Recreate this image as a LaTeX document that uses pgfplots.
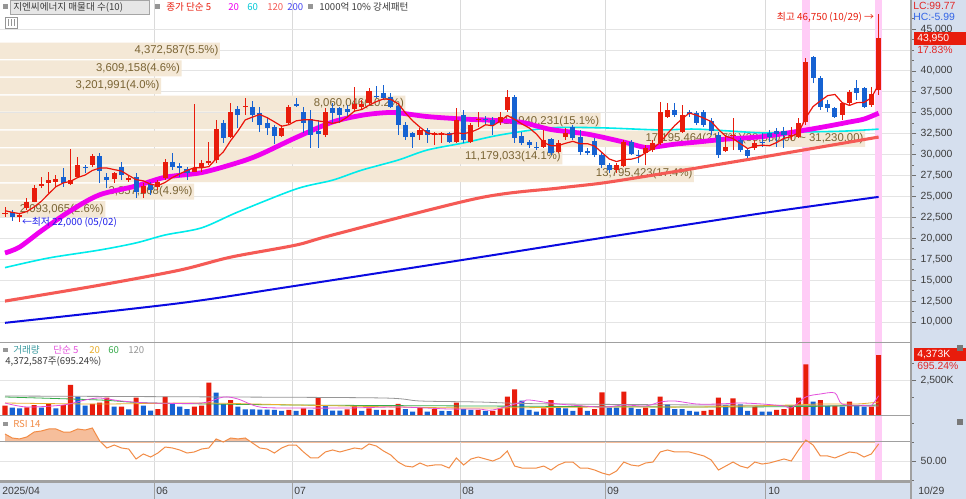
\documentclass[border=0pt]{standalone}
\usepackage{fontspec}
\setmainfont{Liberation Sans}
\newfontfamily\kr{Noto Sans CJK KR}
\usepackage{pgfplots}
\usepackage{pgfplotstable}
\pgfplotsset{compat=1.18}

\definecolor{upred}{RGB}{232,28,12}
\definecolor{dnblue}{RGB}{22,98,210}
\definecolor{ma5c}{RGB}{235,20,10}
\definecolor{ma20c}{RGB}{240,0,240}
\definecolor{ma60c}{RGB}{0,235,235}
\definecolor{ma120c}{RGB}{245,90,85}
\definecolor{ma200c}{RGB}{10,10,225}
\definecolor{beige}{RGB}{244,232,214}
\definecolor{olive}{RGB}{122,100,52}
\definecolor{panelbg}{RGB}{213,223,238}
\definecolor{hgrid}{RGB}{228,228,228}
\definecolor{vgrid}{RGB}{218,218,218}
\definecolor{sepc}{RGB}{160,160,160}
\definecolor{txt}{RGB}{60,60,60}
\definecolor{tickc}{RGB}{110,110,110}
\definecolor{pinkhl}{RGB}{255,204,246}
\definecolor{rsic}{RGB}{242,140,70}
\definecolor{rsifill}{RGB}{246,190,155}
\definecolor{vma5}{RGB}{228,80,220}
\definecolor{vma20}{RGB}{234,175,45}
\definecolor{vma60}{RGB}{55,170,75}
\definecolor{vma120}{RGB}{150,150,150}
\definecolor{tealc}{RGB}{60,155,160}
\definecolor{lowblue}{RGB}{30,30,235}
\definecolor{boxbg}{RGB}{230,230,230}
\definecolor{boxdr}{RGB}{165,165,165}
\definecolor{sqc}{RGB}{150,150,150}
\definecolor{lcred}{RGB}{225,40,40}
\definecolor{hcblue}{RGB}{50,100,230}
\definecolor{cyantxt}{RGB}{0,200,215}
\definecolor{bluetxt}{RGB}{70,70,240}

\newcommand\fs[1]{\fontsize{#1}{#1}\selectfont}

\pgfplotstableread{
i O H L C
0 22950 23750 22550 23050
1 23150 23400 22100 22550
2 22550 23000 22000 22800
3 23600 24800 23400 24350
4 24350 26350 24300 26000
5 26300 27350 26000 26450
6 26600 27900 25400 26950
7 26750 27550 26150 27100
8 27350 28400 26150 26600
9 26500 30650 26350 26950
10 27350 29700 27200 28750
11 28500 28750 27800 28400
12 28750 30100 28500 29850
13 29850 30200 26600 28050
14 27350 27800 26000 26950
15 27100 27900 26600 27800
16 28500 29100 26950 27550
17 26950 27550 26750 27200
18 27350 27800 24800 25550
19 25400 26600 24800 26250
20 26500 26750 25200 25750
21 26150 26950 25750 26750
22 27200 29500 26950 29100
23 29100 30200 28150 28500
24 28650 29000 27350 28400
25 28300 28500 26950 27800
26 27900 36050 27900 28400
27 28400 29350 27900 29000
28 29000 31500 28750 29250
29 29350 34150 29000 33050
30 33800 34150 31400 32000
31 32100 36150 32000 35100
32 35450 35800 33200 34750
33 35750 36750 34750 35850
34 35700 36400 33900 34750
35 35000 35700 32700 33550
36 33800 34500 32350 33200
37 33300 33550 31250 32250
38 32250 33550 32100 33200
39 33800 35950 33550 35700
40 36000 36750 35700 35850
41 35100 35700 32600 33800
42 34250 35350 30800 32350
43 32800 34150 30800 32450
44 32350 35550 32100 35100
45 35550 36150 33800 35000
46 35550 35700 33800 34750
47 35450 35950 34500 35100
48 35450 38100 35100 36050
49 35700 36550 35350 36050
50 36150 37950 35950 37600
51 36950 38200 36750 36850
52 37350 38300 36550 36750
53 36900 37350 35550 35700
54 35800 36150 32350 33550
55 33550 33900 31750 32100
56 32600 32700 30800 32100
57 32350 33200 31750 32950
58 32950 33200 31400 32350
59 32400 32700 31150 32550
60 32400 32700 31400 32550
61 32600 32700 31400 31500
62 31500 35550 31400 34150
63 34750 35350 31400 31750
64 31500 33800 31400 33550
65 34200 35100 33300 34300
66 34200 34600 33550 34100
67 34150 34500 32350 33550
68 33900 35100 33550 34500
69 35350 37700 35100 36900
70 36900 37150 31400 32000
71 32250 32700 31150 31400
72 31500 31750 30800 31150
73 30950 31500 30550 30850
74 30900 32950 30800 31750
75 31850 32000 29950 30200
76 30300 31750 30200 31400
77 32100 33200 31750 32600
78 33300 33550 31750 32000
79 32100 32950 29950 30300
80 30400 30800 29950 30250
81 31650 32000 29700 29950
82 29950 30300 28400 28750
83 28750 29000 27800 28150
84 28150 29000 27800 28750
85 28650 31750 28500 31500
86 31500 31750 29950 30100
87 30000 30550 29000 29900
88 30200 31150 28750 30800
89 30550 31750 30300 31400
90 31400 36300 31150 35100
91 34500 36150 34400 35350
92 35350 36150 34500 34750
93 32700 35950 32600 34750
94 35050 35350 34500 34900
95 35000 35200 33550 33800
96 35100 35350 33300 33550
97 34000 34400 32350 32800
98 32350 32700 29600 29950
99 30450 32350 30300 30900
100 32300 34400 30550 32400
101 31750 32000 30300 30550
102 30550 30800 29600 29850
103 30800 31750 30550 31400
104 31550 32600 30900 31450
105 32600 32950 31500 32100
106 32800 33200 30900 32450
107 32800 33300 30800 32350
108 32300 33300 31750 32400
109 32100 34400 32000 33800
110 33900 41550 33550 41050
111 41650 41800 38550 39150
112 39150 39400 35350 35700
113 36050 36550 35100 35550
114 35550 35700 34400 34500
115 34750 36300 34150 36150
116 36150 37700 35800 37500
117 37950 38900 36550 37350
118 37950 38100 35550 35700
119 35950 38100 35700 37300
120 37700 46750 37150 43950
}\ohlc

\pgfplotstableread{
i m
0 23300
1 23100
2 22950
3 23200
4 23750
5 24430
6 25310
7 26170
8 26620
9 26810
10 27270
11 27560
12 28110
13 28400
14 28400
15 28210
16 28040
17 27510
18 27010
19 26870
20 26460
21 26300
22 26680
23 27270
24 27700
25 28110
26 28440
27 28420
28 28570
29 29500
30 30340
31 31680
32 32830
33 34150
34 34490
35 34800
36 34420
37 33920
38 33390
39 33580
40 34040
41 34160
42 34180
43 34030
44 33910
45 33740
46 33930
47 34480
48 35200
49 35390
50 35910
51 36330
52 36660
53 36590
54 36090
55 34990
56 34040
57 33280
58 32610
59 32410
60 32500
61 32380
62 32620
63 32500
64 32700
65 33050
66 33570
67 33450
68 34000
69 34670
70 34210
71 33670
72 33190
73 32460
74 31430
75 31070
76 31070
77 31360
78 31590
79 31300
80 31310
81 31020
82 30250
83 29480
84 29170
85 29420
86 29450
87 29680
88 30210
89 30740
90 31460
91 32510
92 33480
93 34270
94 34970
95 34710
96 34350
97 33960
98 33000
99 32200
100 31920
101 31320
102 30730
103 31020
104 31130
105 31070
106 31450
107 31950
108 32150
109 32620
110 34410
111 35750
112 36420
113 37050
114 37190
115 36210
116 35880
117 36210
118 36240
119 36800
120 38360
}\mafive

\pgfplotstableread{
i v u
0 680 1
1 535 0
2 486 0
3 559 1
4 729 1
5 535 0
6 850 1
7 486 0
8 729 1
9 2187 1
10 1336 0
11 680 0
12 802 1
13 899 1
14 1264 1
15 608 0
16 615 1
17 413 0
18 1264 1
19 680 0
20 316 0
21 437 1
22 1336 1
23 850 0
24 608 0
25 437 0
26 608 1
27 680 1
28 2357 1
29 1628 0
30 802 0
31 1093 1
32 608 0
33 413 0
34 410 0
35 400 0
36 395 0
37 365 0
38 292 0
39 365 1
40 292 0
41 486 1
42 365 0
43 1264 1
44 729 0
45 316 0
46 310 0
47 413 1
48 680 1
49 292 0
50 486 1
51 365 0
52 370 1
53 380 1
54 802 1
55 437 0
56 243 0
57 535 1
58 243 0
59 437 1
60 292 0
61 285 0
62 899 1
63 437 0
64 365 0
65 370 1
66 292 0
67 300 1
68 486 1
69 1336 1
70 1871 1
71 1045 0
72 365 0
73 243 0
74 486 1
75 1093 1
76 535 0
77 486 0
78 292 0
79 680 1
80 292 0
81 437 1
82 1652 1
83 535 0
84 530 0
85 1701 1
86 535 0
87 437 0
88 535 1
89 437 0
90 1336 1
91 778 0
92 437 0
93 430 0
94 292 0
95 243 0
96 292 1
97 365 1
98 1264 1
99 729 0
100 1215 1
101 778 0
102 292 0
103 608 1
104 243 0
105 240 0
106 365 1
107 437 1
108 656 1
109 1264 1
110 3694 1
111 972 0
112 1093 1
113 656 0
114 660 1
115 608 0
116 972 1
117 656 0
118 608 0
119 615 1
120 4373 1
}\vol

\pgfplotstableread{
i r
0 78.4
1 74.2
2 73.2
3 75.3
4 80.5
5 81.6
6 83.7
7 83.7
8 80.5
9 80.5
10 83.7
11 82.6
12 84.7
13 71.1
14 63.7
15 66.8
16 63.7
17 62.6
18 52.1
19 57.4
20 54.2
21 58.4
22 64.7
23 63.7
24 61.6
25 58.4
26 59.5
27 62.6
28 63.7
29 73.2
30 70.0
31 74.2
32 73.2
33 74.2
34 68.9
35 63.7
36 62.6
37 58.4
38 63.7
39 66.8
40 66.8
41 59.5
42 53.2
43 53.2
44 59.5
45 61.6
46 59.5
47 61.6
48 63.7
49 62.6
50 67.9
51 65.8
52 60.5
53 56.3
54 48.9
55 44.7
56 43.7
57 47.9
58 44.7
59 45.8
60 45.8
61 42.6
62 53.2
63 45.8
64 52.1
65 54.2
66 52.1
67 50.0
68 53.2
69 60.5
70 44.7
71 42.6
72 42.6
73 42.6
74 44.7
75 40.5
76 45.8
77 48.9
78 48.9
79 42.6
80 42.6
81 40.5
82 37.4
83 35.3
84 39.5
85 48.9
86 45.8
87 44.7
88 47.9
89 48.9
90 59.5
91 61.6
92 59.5
93 59.5
94 59.5
95 57.4
96 55.3
97 51.1
98 40.5
99 44.7
100 48.9
101 44.7
102 42.6
103 48.9
104 46.8
105 47.9
106 50.0
107 52.1
108 50.0
109 61.6
110 72.1
111 66.8
112 55.3
113 55.3
114 53.2
115 56.3
116 59.5
117 58.4
118 54.2
119 57.4
120 67.9
}\rsi

\pgfplotstableread{
v p
2093065 23480
3857268 25583
13795423 27686
11179033 29790
17195464 31893
11940231 33996
8060046 36099
3201991 38202
3609158 40305
4372587 42408
}\profile

\pgfplotsset{
  panel/.style={scale only axis, anchor=north west, width=683.25pt,
    xmin=-0.687, xmax=124.45, axis line style={draw=none},
    tick label style={font=\fs{7.8}, text=txt},
    xtick={20.5,39.5,62.5,82.5,104.5}, xticklabels={}, xtick style={draw=none},
    xmajorgrids, x grid style={draw=vgrid, line width=0.75pt},
    ytick pos=right, yticklabel pos=right, tick align=outside,
    major tick length=3.75pt, minor tick length=2.2pt,
    ytick style={draw=tickc, line width=0.6pt},
    scaled y ticks=false, clip=true},
  over/.style={scale only axis, anchor=north west, width=683.25pt, hide axis},
  lowcandle/.style={draw=none, mark=none, forget plot},
}

\begin{document}
\begin{tikzpicture}
\useasboundingbox (0,0) rectangle (724.5pt,-374.25pt);
\begin{scope}[x=0.75pt,y=-0.75pt]
  \fill[white] (0,0) rectangle (966,499);
  \fill[panelbg] (911,0) rectangle (966,499);
  \fill[panelbg] (0,482) rectangle (911,499);
\end{scope}

% ---------- price panel: grid ----------
\begin{axis}[panel, at={(0pt,0pt)}, height=256.5pt, ymin=7610, ymax=48479,
  ytick={10000,12500,15000,17500,20000,22500,25000,27500,30000,32500,35000,37500,40000,45000},
  minor ytick={11250,13750,16250,18750,21250,23750,26250,28750,31250,33750,36250,38750,41250,42500,43750,46250},
  ymajorgrids, y grid style={draw=hgrid, line width=0.75pt},
  yticklabel style={/pgf/number format/fixed, /pgf/number format/1000 sep={,}, /pgf/number format/assume math mode=true}]
  \addplot[draw=none, mark=none, forget plot] coordinates {(0,20000) (100,30000)};
  \draw[hgrid, line width=0.75pt] (axis cs:-1,42500) -- (axis cs:125,42500);
  \fill[pinkhl] (axis cs:109.48,7610) rectangle (axis cs:110.52,48479);
  \fill[pinkhl] (axis cs:119.48,7610) rectangle (axis cs:120.52,48479);
\end{axis}

% ---------- volume profile ----------
\begin{axis}[over, at={(0pt,0pt)}, height=256.5pt, xmin=0, xmax=18110000,
  ymin=7610, ymax=48479, xbar, bar width=1925]
  \addplot[fill=beige, draw=none] table[x=v, y=p] \profile;
  \begin{scope}[every node/.style={anchor=east, inner sep=1pt, font=\fs{8.5}, text=olive}]
  \node at (axis cs:2093065,23480) {2,093,065(2.6\%)};
  \node at (axis cs:3857268,25583) {3,857,268(4.9\%)};
  \node at (axis cs:13795423,27686) {13,795,423(17.4\%)};
  \node at (axis cs:11179033,29790) {11,179,033(14.1\%)};
  \node at (axis cs:17195464,31893) {17,195,464(21.7\%)(33,350.00 \textasciitilde\ 31,230.00)};
  \node at (axis cs:11940231,33996) {11,940,231(15.1\%)};
  \node at (axis cs:8060046,36099) {8,060,046(10.2\%)};
  \node at (axis cs:3201991,38202) {3,201,991(4.0\%)};
  \node at (axis cs:3609158,40305) {3,609,158(4.6\%)};
  \node at (axis cs:4372587,42408) {4,372,587(5.5\%)};
  \end{scope}
\end{axis}

% ---------- price panel: content ----------
\begin{axis}[over, at={(0pt,0pt)}, height=256.5pt, xmin=-0.687, xmax=124.45,
  ymin=7610, ymax=48479, clip=true]
  \addplot[ma200c, line width=1.5pt, smooth, mark=none] coordinates {
    (0,9900) (24,12250) (39,14200) (62,17300) (82,20050) (104,23000) (120,24950)};
  \addplot[ma120c, line width=2.3pt, smooth, mark=none] coordinates {
    (0,12500) (13,14400) (24,16200) (31,17750) (40,19200) (45,20400) (65,24800)
    (76,26000) (82,26600) (89,27550) (95,28400) (104,29700) (108,30300) (120,32100)};
  \addplot[ma60c, line width=1.2pt, smooth, mark=none] coordinates {
    (0,16500) (6,17650) (13,18600) (18,19450) (22,20400) (27,21250) (32,23150)
    (40,25900) (45,26950) (49,28150) (54,29350) (58,30550) (63,31400) (68,32350)
    (75,33200) (82,33200) (90,32950) (95,33050) (104,32600) (109,32700) (115,32800) (120,33050)};
  \addplot[ma20c, line width=3.6pt, smooth, mark=none] coordinates {
    (0,18250) (2,18950) (5,20900) (9,23300) (13,25200) (18,26250) (22,27300)
    (27,27850) (32,29050) (35,30000) (40,32050) (45,33900) (49,34700) (52,35000)
    (54,35000) (58,34550) (63,34250) (67,34100) (71,33850) (75,33000) (80,32450)
    (85,31500) (88,30850) (90,31000) (92,31250) (95,31500) (99,31850) (104,32150)
    (109,32800) (113,33400) (116,33900) (118,34250) (120,34950)};
  % wicks
  \addplot[lowcandle, x filter/.expression={\thisrow{C}>=\thisrow{O} ? x : nan},
    error bars/.cd, y dir=plus, y explicit, error mark=none,
    error bar style={draw=upred, line width=0.75pt}]
    table[x=i, y=L, y error expr=\thisrow{H}-\thisrow{L}] \ohlc;
  \addplot[lowcandle, x filter/.expression={\thisrow{C}<\thisrow{O} ? x : nan},
    error bars/.cd, y dir=plus, y explicit, error mark=none,
    error bar style={draw=dnblue, line width=0.75pt}]
    table[x=i, y=L, y error expr=\thisrow{H}-\thisrow{L}] \ohlc;
  % bodies
  \addplot[lowcandle, x filter/.expression={\thisrow{C}>=\thisrow{O} ? x : nan},
    error bars/.cd, y dir=plus, y explicit, error mark=none,
    error bar style={draw=upred, line width=3.8pt}]
    table[x=i, y=O, y error expr=\thisrow{C}-\thisrow{O}] \ohlc;
  \addplot[lowcandle, x filter/.expression={\thisrow{C}<\thisrow{O} ? x : nan},
    error bars/.cd, y dir=plus, y explicit, error mark=none,
    error bar style={draw=dnblue, line width=3.8pt}]
    table[x=i, y=C, y error expr=\thisrow{O}-\thisrow{C}] \ohlc;
  \addplot[ma5c, line width=0.9pt, mark=none, line join=round] table[x=i, y=m] \mafive;
  \node[anchor=east, inner sep=0pt, text=upred, font=\kr\fs{7.4}] at (axis cs:119.4,46450) {최고 46,750 (10/29) →};
  \node[anchor=west, inner sep=0pt, text=lowblue, font=\kr\fs{7.4}] at (axis cs:2.3,21950) {←최저 22,000 (05/02)};
\end{axis}

% ---------- volume panel ----------
\begin{axis}[panel, at={(0pt,-256.5pt)}, height=54.75pt, ymin=0, ymax=5321,
  ytick={2500}, yticklabel={2{,}500K}, minor ytick={1250,3750},
  ymajorgrids, y grid style={draw=hgrid, line width=0.75pt}]
  \fill[pinkhl] (axis cs:109.48,0) rectangle (axis cs:110.52,5321);
  \fill[pinkhl] (axis cs:119.48,0) rectangle (axis cs:120.52,5321);
  \addplot[ybar, bar width=3.8pt, bar shift=0pt, fill=upred, draw=none,
    x filter/.expression={\thisrow{u}>0 ? x : nan}] table[x=i, y=v] \vol;
  \addplot[ybar, bar width=3.8pt, bar shift=0pt, fill=dnblue, draw=none,
    x filter/.expression={\thisrow{u}>0 ? nan : x}] table[x=i, y=v] \vol;
  \addplot[vma120, line width=0.6pt, smooth, mark=none] coordinates {
    (0,1385) (31,1312) (52,1239) (57,1021) (65,948) (76,802) (120,656)};
  \addplot[vma60, line width=0.6pt, smooth, mark=none] coordinates {
    (0,1312) (13,1094) (20,875) (40,729) (65,656) (95,583) (110,620) (120,729)};
  \addplot[vma20, line width=0.6pt, smooth, mark=none] coordinates {
    (0,875) (13,802) (27,875) (40,729) (54,583) (65,510) (82,583) (95,583)
    (108,729) (112,802) (117,802) (120,948)};
  \addplot[vma5, line width=0.6pt, smooth, mark=none] coordinates {
    (0,875) (3,583) (8,729) (11,1094) (13,1239) (16,1021) (20,875) (27,875)
    (30,1312) (32,1166) (35,583) (40,510) (47,510) (54,583) (61,437) (65,437)
    (67,365) (71,948) (72,1094) (76,802) (82,583) (85,729) (88,656) (90,948)
    (92,1021) (95,802) (98,802) (101,875) (104,802) (107,656) (108,510) (110,1312)
    (112,1531) (114,1604) (115,800) (118,700) (119,690) (120,1400)};
\end{axis}

% ---------- RSI fill above 70 (clipped overlay) ----------
\begin{axis}[over, at={(0pt,-311.25pt)}, height=20.25pt, xmin=-0.687, xmax=124.45,
  ymin=70, ymax=98.4, clip=true]
  \addplot[fill=rsifill, draw=none, mark=none] table[x=i, y=r] \rsi \closedcycle;
\end{axis}

% ---------- RSI panel ----------
\begin{axis}[panel, at={(0pt,-311.25pt)}, height=50.25pt, ymin=27.9, ymax=98.4,
  ytick={50}, yticklabel={50.00}, minor ytick={30,70,90},
  ymajorgrids, y grid style={draw=hgrid, line width=0.75pt}]
  \fill[pinkhl] (axis cs:109.48,27.9) rectangle (axis cs:110.52,98.4);
  \fill[pinkhl] (axis cs:119.48,27.9) rectangle (axis cs:120.52,98.4);
  \draw[sepc, line width=0.75pt] (axis cs:-1,70) -- (axis cs:125,70);
  \draw[sepc, line width=0.75pt] (axis cs:-1,30) -- (axis cs:125,30);
  \addplot[rsic, line width=0.75pt, mark=none] table[x=i, y=r] \rsi;
\end{axis}

% ---------- decorations ----------
\begin{scope}[x=0.75pt,y=-0.75pt]
  \draw[sepc, line width=0.75pt] (0,342) -- (911,342);
  \draw[sepc, line width=0.75pt] (0,415) -- (911,415);
  \draw[sepc, line width=0.9pt] (0,482) -- (911,482);
  \draw[sepc, line width=0.9pt] (911,0) -- (911,499);
  \foreach \xx in {154.2,292.6,460,605.6,765.8} {\draw[sepc, line width=0.75pt] (\xx,482) -- (\xx,499);}
  \begin{scope}[every node/.style={anchor=west, inner sep=0pt, font=\fs{7.8}, text=txt}]
    \node at (2,491) {2025/04};
    \node at (156,491) {06};
    \node at (294,491) {07};
    \node at (462,491) {08};
    \node at (607,491) {09};
    \node at (768,491) {10};
    \node at (918,491) {10/29};
  \end{scope}
  \fill[sqc] (3,4.5) rectangle (7.5,9);
  \draw[fill=boxbg, draw=boxdr] (10,0.5) rectangle (149,14);
  \node[anchor=west, inner sep=0pt, font=\kr\fs{7.2}, text=txt] at (13,7.3) {지엔씨에너지 매물대 수(10)};
  \fill[sqc] (155,4.5) rectangle (159.5,9);
  \begin{scope}[every node/.style={anchor=west, inner sep=0pt, font=\kr\fs{7.2}}]
    \node[text=upred] at (166,7.3) {종가 단순 5};
    \node[text=ma20c] at (228,7.3) {20};
    \node[text=cyantxt] at (247,7.3) {60};
    \node[text=ma120c] at (267,7.3) {120};
    \node[text=bluetxt] at (287,7.3) {200};
    \node[text=txt] at (319,7.3) {1000억 10\% 강세패턴};
    \node[text=tealc] at (13,350) {거래량};
    \node[text=vma5] at (53,350) {단순 5};
    \node[text=vma20] at (89,350) {20};
    \node[text=vma60] at (108,350) {60};
    \node[text=vma120] at (128,350) {120};
    \node[text=txt] at (5,362) {4,372,587주(695.24\%)};
    \node[text=rsic] at (13,424) {RSI 14};
  \end{scope}
  \fill[sqc] (308,4.5) rectangle (312.5,9);
  \fill[sqc] (3,347.5) rectangle (7.5,352);
  \fill[sqc] (3,421.5) rectangle (7.5,426);
  \draw[sqc, fill=white, line width=0.6pt] (5,17) rectangle (17,28);
  \foreach \xx in {8,11,14} {\draw[sqc, line width=0.6pt] (\xx,19.5) -- (\xx,26);}
  \begin{scope}[every node/.style={anchor=west, inner sep=0pt, font=\fs{7.8}}]
    \node[text=lcred] at (913,6) {LC:99.77};
    \node[text=hcblue] at (913,17) {HC:-5.99};
    \fill[upred] (914,32) rectangle (966,45);
    \node[text=white] at (917,38.5) {43,950};
    \node[text=lcred] at (917,50) {17.83\%};
    \fill[upred] (914,348) rectangle (966,361);
    \node[text=white] at (917,354.5) {4,373K};
    \node[text=lcred] at (917,366) {695.24\%};
  \end{scope}
  \fill[sqc!80!black] (957,345) rectangle (963,351);
  \fill[sqc!80!black] (957,419) rectangle (963,425);
\end{scope}
\end{tikzpicture}
\end{document}
